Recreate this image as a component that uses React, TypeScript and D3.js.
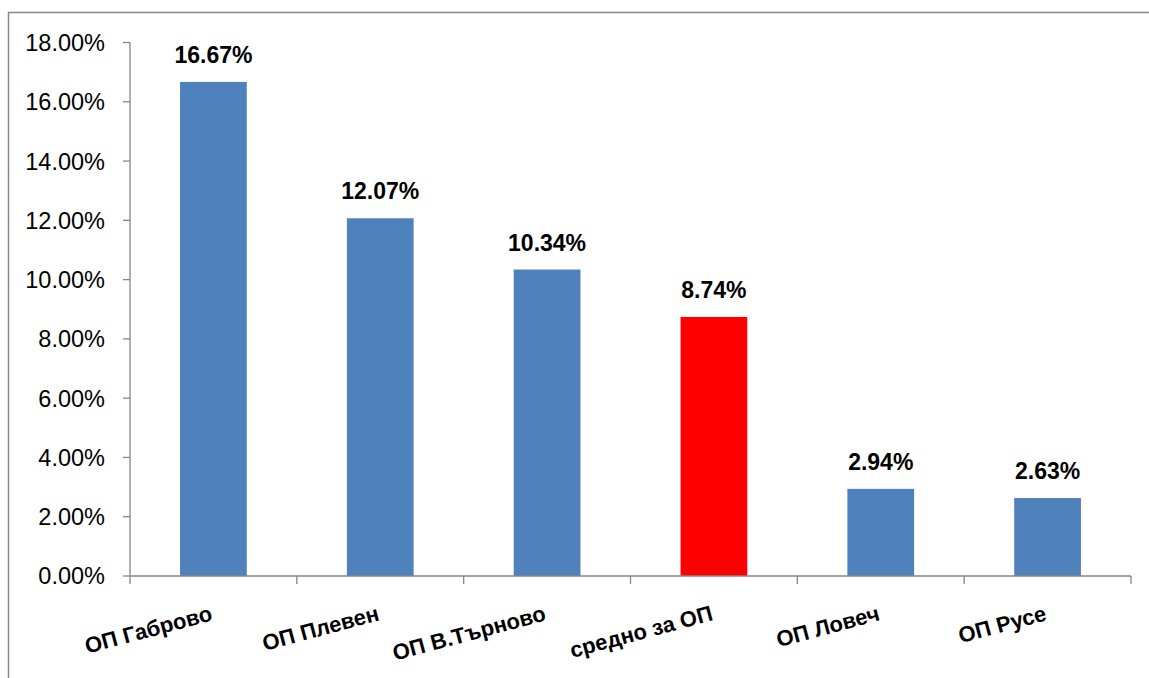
import React, { useMemo } from "react";
import * as d3 from "d3";

const categories = [
  "ОП Габрово",
  "ОП Плевен",
  "ОП В.Търново",
  "средно за ОП",
  "ОП Ловеч",
  "ОП Русе",
];
const values = [16.67, 12.07, 10.34, 8.74, 2.94, 2.63];
const highlighted = ["средно за ОП"];
const yTicks = [0, 2, 4, 6, 8, 10, 12, 14, 16, 18];

const width = 1149,
  height = 678;
const plotLeft = 130,
  plotRight = 1131,
  plotTop = 42.5,
  plotBottom = 576;

const axisColor = "#868686";
const font = "'Liberation Sans', Arial, sans-serif";

const App = () => {
  const x = useMemo(
    () =>
      d3
        .scaleBand<string>()
        .domain(categories)
        .range([plotLeft, plotRight])
        .paddingInner(0.6)
        .paddingOuter(0.3),
    []
  );
  const xOuter = useMemo(
    () => d3.scaleBand<string>().domain(categories).range([plotLeft, plotRight]),
    []
  );
  const y = useMemo(
    () => d3.scaleLinear().domain([0, 18]).range([plotBottom, plotTop]),
    []
  );

  const boundaries = [...categories.map((c) => xOuter(c) as number), plotRight];

  return (
    <div style={{ position: "fixed", left: 0, top: 0 }}>
      <svg width={width} height={height} style={{ display: "block", background: "#fff" }}>
        {/* outer chart frame (runs off the right and bottom edges) */}
        <rect
          x={8.5}
          y={12.5}
          width={width + 20}
          height={height + 20}
          fill="none"
          stroke={axisColor}
          strokeWidth={1.5}
        />

        {/* y axis */}
        <line x1={plotLeft} x2={plotLeft} y1={plotTop} y2={plotBottom} stroke={axisColor} strokeWidth={1.3} />
        {yTicks.map((t) => (
          <g key={t} transform={`translate(0,${y(t)})`}>
            <line x1={plotLeft - 7} x2={plotLeft} stroke={axisColor} strokeWidth={1.3} />
            <text
              x={105}
              dy="0.36em"
              textAnchor="end"
              fontFamily={font}
              fontSize={23.5}
              fill="#000"
            >
              {`${t.toFixed(2)}%`}
            </text>
          </g>
        ))}

        {/* bars */}
        {categories.map((c, i) => (
          <rect
            key={c}
            x={x(c)}
            y={y(values[i])}
            width={x.bandwidth()}
            height={plotBottom - y(values[i])}
            fill={highlighted.includes(c) ? "#FF0000" : "#4F81BD"}
          />
        ))}

        {/* x axis */}
        <line x1={plotLeft} x2={plotRight} y1={plotBottom} y2={plotBottom} stroke={axisColor} strokeWidth={1.3} />
        {boundaries.map((bx, i) => (
          <line key={i} x1={bx} x2={bx} y1={plotBottom} y2={plotBottom + 8} stroke={axisColor} strokeWidth={1.3} />
        ))}

        {/* data labels */}
        {categories.map((c, i) => (
          <text
            key={c}
            x={(x(c) as number) + x.bandwidth() / 2}
            y={y(values[i]) - 19}
            textAnchor="middle"
            fontFamily={font}
            fontWeight="bold"
            fontSize={23}
            fill="#000"
          >
            {`${values[i].toFixed(2)}%`}
          </text>
        ))}

        {/* category labels */}
        {categories.map((c) => {
          const cx = (xOuter(c) as number) + xOuter.bandwidth() / 2;
          return (
            <text
              key={c}
              transform={`translate(${cx},620) rotate(-15)`}
              textAnchor="end"
              fontFamily={font}
              fontWeight="bold"
              fontSize={22}
              fill="#000"
            >
              {c}
            </text>
          );
        })}
      </svg>
    </div>
  );
};

export default App;
